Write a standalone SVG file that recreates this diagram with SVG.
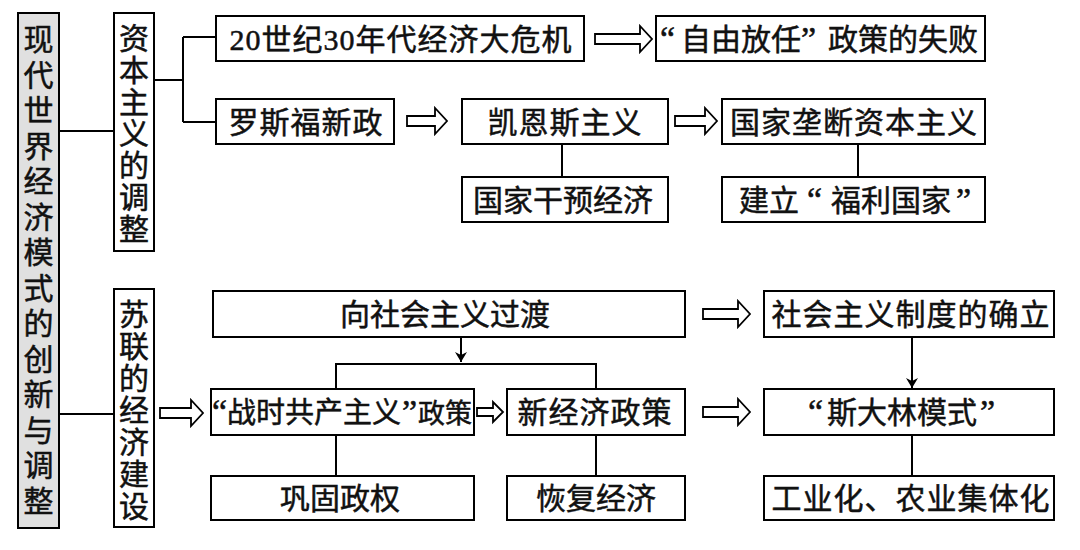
<svg xmlns="http://www.w3.org/2000/svg" width="1080" height="550" viewBox="0 0 1080 550">
<style>
.box{fill:#fff;stroke:#000;stroke-width:2}
.gray{fill:#e0e0e0}
.t{font-family:"Liberation Serif","Noto Sans CJK SC",serif;font-size:30px;fill:#111;stroke:#111;stroke-width:0.5}
.q{font-size:34px}
.m{text-anchor:middle}
.ln{fill:none;stroke:#000;stroke-width:2}
.ha{fill:#fff;stroke:#000;stroke-width:1.8;stroke-linejoin:miter}
</style>
<defs>
<marker id="ah" viewBox="0 0 10 16" refX="10" refY="8" markerWidth="10" markerHeight="16" markerUnits="userSpaceOnUse" orient="auto">
<path d="M0,2 L10,8 L0,14 L3,8 Z" fill="#000"/>
</marker>
</defs>
<rect width="1080" height="550" fill="#fff"/>

<g id="connectors">
<path class="ln" d="M59,131 H114 M59,414 H114"/>
<path class="ln" d="M154,80 H183 M183,37 V122 M183,37 H216 M183,122 H216"/>
<path class="ln" d="M562,144 V177 M858,144 V177"/>
<path class="ln" d="M461,337 V362" marker-end="url(#ah)"/>
<path class="ln" d="M336,389 V364 H596 V389"/>
<path class="ln" d="M336,435 V476 M596,435 V476 M912,435 V476"/>
<path class="ln" d="M912,337 V388" marker-end="url(#ah)"/>
<path class="ha" d="M595,34 H640 V26 L652,39 L640,52 V44 H595 Z"/>
<path class="ha" d="M407,116 H435 V108 L447,121 L435,134 V126 H407 Z"/>
<path class="ha" d="M675,116 H705 V108 L717,121 L705,134 V126 H675 Z"/>
<path class="ha" d="M703,309 H738 V301 L750,314 L738,327 V319 H703 Z"/>
<path class="ha" d="M703,407 H738 V399 L750,412 L738,425 V417 H703 Z"/>
<path class="ha" d="M160,408 H191 V400 L203,413 L191,426 V418 H160 Z"/>
<path class="ha" d="M477,408 H493 V402 L503,412 L493,422 V416 H477 Z"/>
</g>

<g id="root">
<rect class="box gray" x="18" y="13" width="41" height="515"/>
<text class="t m"><tspan x="38.5" y="50">现</tspan><tspan x="38.5" y="85.5">代</tspan><tspan x="38.5" y="121">世</tspan><tspan x="38.5" y="156.5">界</tspan><tspan x="38.5" y="192">经</tspan><tspan x="38.5" y="227.5">济</tspan><tspan x="38.5" y="263">模</tspan><tspan x="38.5" y="298.5">式</tspan><tspan x="38.5" y="334">的</tspan><tspan x="38.5" y="369.5">创</tspan><tspan x="38.5" y="405">新</tspan><tspan x="38.5" y="440.5">与</tspan><tspan x="38.5" y="476">调</tspan><tspan x="38.5" y="511.5">整</tspan></text>
</g>

<g id="capitalism">
<rect class="box" x="114" y="13" width="40" height="238"/>
<text class="t m"><tspan x="134" y="49">资</tspan><tspan x="134" y="81">本</tspan><tspan x="134" y="112.5">主</tspan><tspan x="134" y="144">义</tspan><tspan x="134" y="176">的</tspan><tspan x="134" y="208">调</tspan><tspan x="134" y="240">整</tspan></text>
</g>

<g id="ussr">
<rect class="box" x="114" y="289" width="40" height="238"/>
<text class="t m"><tspan x="134" y="325">苏</tspan><tspan x="134" y="357">联</tspan><tspan x="134" y="389">的</tspan><tspan x="134" y="421">经</tspan><tspan x="134" y="453">济</tspan><tspan x="134" y="485">建</tspan><tspan x="134" y="517">设</tspan></text>
</g>

<g id="crisis">
<rect class="box" x="216" y="16" width="368" height="45"/>
<text class="t m" x="401" y="50" letter-spacing="1">20世纪30年代经济大危机</text>
</g>

<g id="laissez">
<rect class="box" x="656" y="16" width="329" height="45"/>
<text class="t" y="50"><tspan class="q" x="660">“</tspan><tspan x="681">自由放任</tspan><tspan class="q" x="801">”</tspan><tspan x="828">政策的失败</tspan></text>
</g>

<g id="newdeal">
<rect class="box" x="216" y="99" width="178" height="45"/>
<text class="t m" x="306" y="133" letter-spacing="1">罗斯福新政</text>
</g>

<g id="keynes">
<rect class="box" x="462" y="99" width="206" height="45"/>
<text class="t m" x="565" y="133" letter-spacing="1">凯恩斯主义</text>
</g>

<g id="statemonopoly">
<rect class="box" x="722" y="99" width="263" height="45"/>
<text class="t m" x="854" y="133" letter-spacing="1">国家垄断资本主义</text>
</g>

<g id="intervention">
<rect class="box" x="462" y="177" width="206" height="45"/>
<text class="t m" x="563" y="211">国家干预经济</text>
</g>

<g id="welfare">
<rect class="box" x="722" y="177" width="263" height="45"/>
<text class="t" y="211"><tspan x="739">建立</tspan><tspan class="q" x="807">“</tspan><tspan x="831">福利国家</tspan><tspan class="q" x="956">”</tspan></text>
</g>

<g id="transition">
<rect class="box" x="213" y="291" width="472" height="46"/>
<text class="t m" x="445" y="325">向社会主义过渡</text>
</g>

<g id="establish">
<rect class="box" x="764" y="291" width="290" height="46"/>
<text class="t m" x="911" y="325" letter-spacing="1">社会主义制度的确立</text>
</g>

<g id="warcommunism">
<rect class="box" x="211" y="389" width="263" height="46"/>
<text class="t" y="423"><tspan class="q" x="212">“</tspan><tspan x="227" font-size="29">战时共产主义</tspan><tspan class="q" x="402">”</tspan><tspan x="418" font-size="27">政策</tspan></text>
</g>

<g id="nep">
<rect class="box" x="507" y="389" width="178" height="46"/>
<text class="t m" x="595" y="423" letter-spacing="1">新经济政策</text>
</g>

<g id="stalin">
<rect class="box" x="764" y="389" width="290" height="46"/>
<text class="t" y="423"><tspan class="q" x="808">“</tspan><tspan x="827">斯大林模式</tspan><tspan class="q" x="980">”</tspan></text>
</g>

<g id="consolidate">
<rect class="box" x="211" y="476" width="263" height="44"/>
<text class="t m" x="340" y="509">巩固政权</text>
</g>

<g id="recover">
<rect class="box" x="507" y="476" width="178" height="44"/>
<text class="t m" x="596" y="509">恢复经济</text>
</g>

<g id="industrial">
<rect class="box" x="764" y="476" width="290" height="44"/>
<text class="t m" x="911" y="509" letter-spacing="1">工业化、农业集体化</text>
</g>
</svg>
